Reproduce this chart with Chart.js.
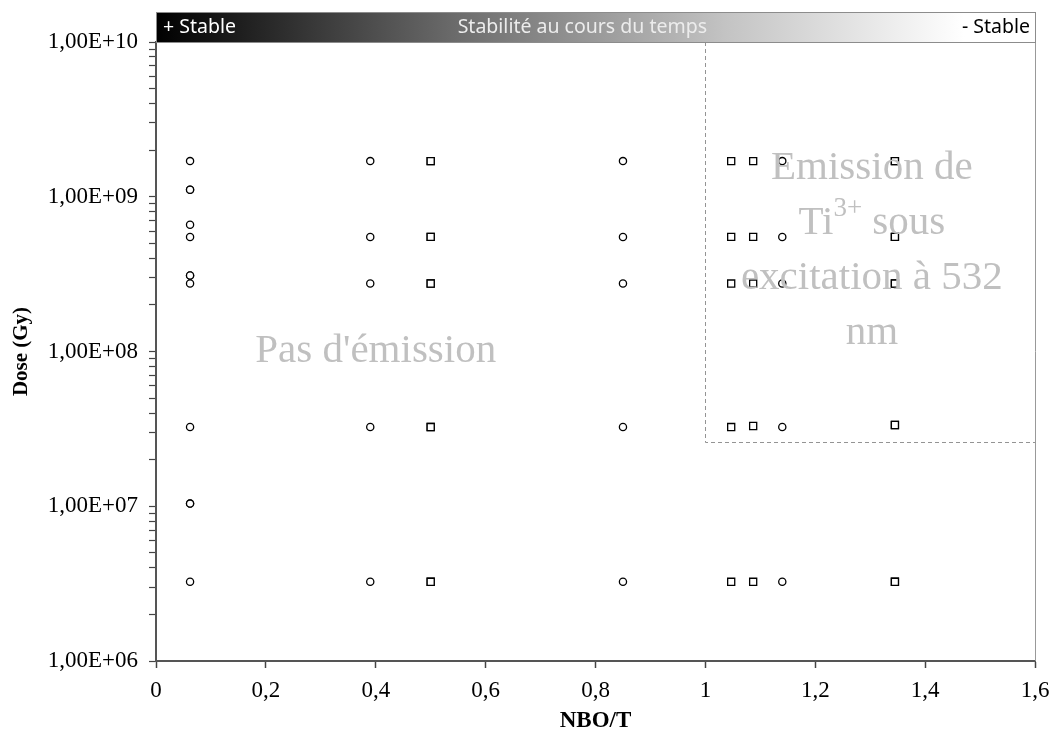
<!DOCTYPE html>
<html>
<head>
<meta charset="utf-8">
<script src="https://cdn.jsdelivr.net/npm/chart.js@4.4.0/dist/chart.umd.min.js"></script>
<style>
html, body { margin: 0; padding: 0; background: #fff; }
#wrap { width: 1054px; height: 747px; }
</style>
</head>
<body>
<div id="wrap"><canvas id="doseChart" width="1054" height="747"></canvas></div>
<script>
// Données : NBO/T et dose (Gy) de chaque échantillon
const circleNbo = [
    0.062, 0.062, 0.062, 0.062, 0.062, 0.062, 0.062, 0.062, 0.062, 0.062, 0.062, 0.062,
    0.39, 0.39, 0.39, 0.39, 0.39,
    0.85, 0.85, 0.85, 0.85, 0.85,
    1.14, 1.14, 1.14, 1.14, 1.14
];
const circleDose = [
    1.7e9, 1.11e9, 1.11e9, 6.6e8, 5.5e8, 3.1e8, 3.1e8, 2.75e8, 3.25e7, 1.04e7, 1.04e7, 3.25e6,
    1.7e9, 5.5e8, 2.75e8, 3.25e7, 3.25e6,
    1.7e9, 5.5e8, 2.75e8, 3.25e7, 3.25e6,
    1.7e9, 5.5e8, 2.75e8, 3.25e7, 3.25e6
];
const squareNbo = [
    0.5, 0.5, 0.5, 0.5, 0.5,
    0.5, 0.5, 0.5, 0.5, 0.5,
    1.047, 1.047, 1.047, 1.047, 1.047,
    1.087, 1.087, 1.087, 1.087, 1.087,
    1.345, 1.345, 1.345, 1.345, 1.345,
    1.345, 1.345, 1.345, 1.345, 1.345
];
const squareDose = [
    1.7e9, 5.5e8, 2.75e8, 3.25e7, 3.25e6,
    1.7e9, 5.5e8, 2.75e8, 3.25e7, 3.25e6,
    1.7e9, 5.5e8, 2.75e8, 3.25e7, 3.25e6,
    1.7e9, 5.5e8, 2.75e8, 3.3e7, 3.25e6,
    1.7e9, 5.5e8, 2.75e8, 3.35e7, 3.25e6,
    1.7e9, 5.5e8, 2.75e8, 3.35e7, 3.25e6
];

// Graduations
const yMajorValues = [1e6, 1e7, 1e8, 1e9, 1e10];
const yMajorLabels = ['1,00E+06', '1,00E+07', '1,00E+08', '1,00E+09', '1,00E+10'];

// Zone d'émission Ti3+
const zoneNbo = 1.0;
const zoneDose = 2.6e7;

const serif = '"Liberation Serif", "Times New Roman", serif';
const sans = '"Noto Sans", "DejaVu Sans", sans-serif';

function toPoints(xs, ys) {
    return xs.map((x, i) => ({ x: x, y: ys[i] }));
}

// graduations mineures du log
function logTicks() {
    const ticks = [];
    for (let e = 6; e < 10; e++) {
        for (let m = 1; m <= 9; m++) {
            ticks.push({ value: m * Math.pow(10, e) });
        }
    }
    ticks.push({ value: 1e10 });
    return ticks;
}

// bandeau du haut, cadre droit et textes des zones
const overlayPlugin = {
    id: 'overlay',
    afterDatasetsDraw(chart) {
        const { ctx, chartArea: a, scales: { x, y } } = chart;
        ctx.save();

        // bord droit
        ctx.strokeStyle = '#999';
        ctx.lineWidth = 1;
        ctx.beginPath();
        ctx.moveTo(a.right + 0.5, a.top);
        ctx.lineTo(a.right + 0.5, a.bottom);
        ctx.stroke();

        // limite de la zone (pointillés)
        const zx = Math.round(x.getPixelForValue(zoneNbo)) + 0.5;
        const zy = Math.round(y.getPixelForValue(zoneDose)) + 0.5;
        ctx.strokeStyle = '#949494';
        ctx.setLineDash([4, 3]);
        ctx.beginPath();
        ctx.moveTo(zx, a.top);
        ctx.lineTo(zx, zy);
        ctx.lineTo(a.right, zy);
        ctx.stroke();
        ctx.setLineDash([]);

        // textes
        ctx.fillStyle = '#c0c0c0';
        ctx.textBaseline = 'middle';
        ctx.textAlign = 'center';
        ctx.font = '41px ' + serif;
        ctx.fillText("Pas d'émission", x.getPixelForValue(0.4), y.getPixelForValue(1e8));

        const cx = x.getPixelForValue(1.303);
        const cy = y.getPixelForValue(4.5e8);
        const lh = 55;
        ctx.fillText('Emission de', cx, cy - 1.5 * lh);
        ctx.fillText('excitation à 532', cx, cy + 0.5 * lh);
        ctx.fillText('nm', cx, cy + 1.5 * lh);

        // ligne avec exposant
        ctx.textAlign = 'left';
        const wTi = ctx.measureText('Ti').width;
        const wSous = ctx.measureText(' sous').width;
        ctx.font = '27px ' + serif;
        const wSup = ctx.measureText('3+').width;
        let sx = cx - (wTi + wSup + wSous) / 2;
        const ly = cy - 0.5 * lh;
        ctx.font = '41px ' + serif;
        ctx.fillText('Ti', sx, ly);
        sx += wTi;
        ctx.font = '27px ' + serif;
        ctx.fillText('3+', sx, ly - 14);
        sx += wSup;
        ctx.font = '41px ' + serif;
        ctx.fillText(' sous', sx, ly);

        // bandeau stabilité
        const barTop = 12;
        const barH = 30;
        const grad = ctx.createLinearGradient(a.left, 0, a.right, 0);
        grad.addColorStop(0, '#000');
        grad.addColorStop(0.35, '#6e6e6e');
        grad.addColorStop(0.65, '#c4c4c4');
        grad.addColorStop(0.92, '#fff');
        grad.addColorStop(1, '#fff');
        ctx.fillStyle = grad;
        ctx.fillRect(a.left, barTop, a.right - a.left, barH);
        ctx.strokeStyle = '#8c8c8c';
        ctx.strokeRect(a.left + 0.5, barTop + 0.5, a.right - a.left, barH);

        ctx.font = '19.5px ' + sans;
        ctx.textBaseline = 'middle';
        ctx.textAlign = 'left';
        ctx.fillStyle = '#fff';
        ctx.fillText('+ Stable', a.left + 7, barTop + barH / 2);
        ctx.textAlign = 'center';
        ctx.fillStyle = '#ececec';
        ctx.fillText('Stabilité au cours du temps', a.left + (a.right - a.left) * 0.485, barTop + barH / 2);
        ctx.textAlign = 'right';
        ctx.fillStyle = '#000';
        ctx.fillText('- Stable', a.right - 5, barTop + barH / 2);

        ctx.restore();
    }
};

const config = {
    type: 'scatter',
    data: {
        datasets: [{
            label: 'cercles',
            data: toPoints(circleNbo, circleDose),
            pointStyle: 'circle',
            pointRadius: 3.6,
            borderWidth: 1.3,
            borderColor: '#000',
            backgroundColor: '#fff'
        }, {
            label: 'carrés',
            data: toPoints(squareNbo, squareDose),
            pointStyle: 'rect',
            pointRadius: 5,
            borderWidth: 1.3,
            borderColor: '#000',
            backgroundColor: '#fff'
        }]
    },
    options: {
        responsive: false,
        animation: false,
        devicePixelRatio: 1,
        layout: { padding: { top: 42, right: 19, left: 0, bottom: 0 } },
        plugins: {
            legend: { display: false },
            tooltip: { enabled: false }
        },
        scales: {
            x: {
                type: 'linear',
                min: 0,
                max: 1.6,
                afterFit(scale) {
                    scale.height = 86;
                    scale.paddingLeft = 0;
                    scale.paddingRight = 0;
                },
                ticks: {
                    stepSize: 0.2,
                    padding: 9,
                    color: '#000',
                    font: { family: serif, size: 23 },
                    callback: (v) => String(Math.round(v * 10) / 10).replace('.', ',')
                },
                grid: { drawOnChartArea: false, tickLength: 7, tickColor: '#444', tickWidth: 1.5 },
                border: { color: '#555', width: 2 },
                title: {
                    display: true,
                    text: 'NBO/T',
                    color: '#000',
                    font: { family: serif, size: 23, weight: 'bold' },
                    padding: { top: 0, bottom: 12 }
                }
            },
            y: {
                type: 'logarithmic',
                min: 1e6,
                max: 1e10,
                afterBuildTicks(scale) { scale.ticks = logTicks(); },
                afterFit(scale) {
                    scale.width = 156;
                    scale.paddingTop = 0;
                    scale.paddingBottom = 0;
                },
                ticks: {
                    autoSkip: false,
                    padding: 11,
                    color: '#000',
                    font: { family: serif, size: 23 },
                    callback: (v) => {
                        const i = yMajorValues.indexOf(v);
                        return i >= 0 ? yMajorLabels[i] : '';
                    }
                },
                grid: { drawOnChartArea: false, tickLength: 7, tickColor: '#444', tickWidth: 1.2 },
                border: { color: '#555', width: 2 },
                title: {
                    display: true,
                    text: 'Dose (Gy)',
                    color: '#000',
                    font: { family: serif, size: 21, weight: 'bold' },
                    padding: { top: 9, bottom: 0 }
                }
            }
        }
    },
    plugins: [overlayPlugin]
};

new Chart(document.getElementById('doseChart'), config);
</script>
</body>
</html>
